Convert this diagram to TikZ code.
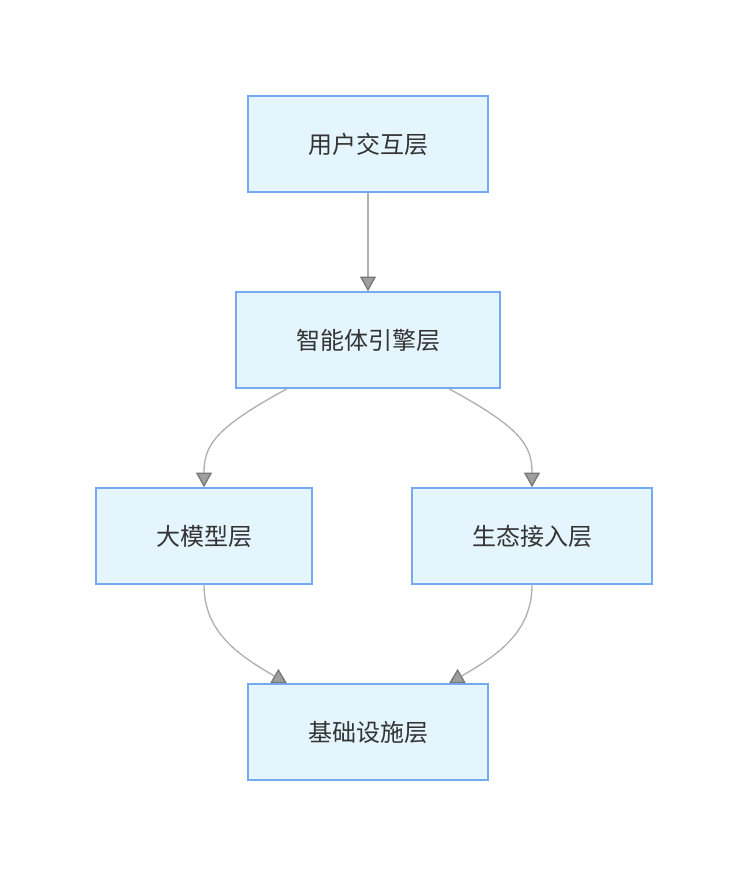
\documentclass[tikz,border=0pt]{standalone}
\usepackage{fontspec}
\newfontfamily\cjk{Noto Sans CJK SC}
\usetikzlibrary{arrows.meta}
\definecolor{boxfill}{HTML}{E5F5FD}
\definecolor{boxline}{HTML}{75A9F4}
\definecolor{edgecol}{HTML}{B0B0B0}
\definecolor{headfill}{HTML}{9E9E9E}
\definecolor{headline}{HTML}{7A7A7A}
\definecolor{textcol}{HTML}{333333}
\begin{document}
\begin{tikzpicture}[x=0.75pt, y=-0.75pt,
    layer/.style={draw=boxline, fill=boxfill, line width=1.1pt, minimum height=72pt, inner sep=0pt, text=textcol, font=\cjk\fontsize{18}{21}\selectfont},
    flow/.style={draw=edgecol, line width=1pt, -{Triangle[length=11pt, width=12pt, color=headline, fill=headfill]}}]
    \useasboundingbox (0,0) rectangle (748,876);
    % layers
    \node[layer, minimum width=180pt] (ui) at (368,144) {用户交互层};
    \node[layer, minimum width=198pt] (engine) at (368,340) {智能体引擎层};
    \node[layer, minimum width=162pt] (model) at (204,536) {大模型层};
    \node[layer, minimum width=180pt] (eco) at (532,536) {生态接入层};
    \node[layer, minimum width=180pt] (infra) at (368,732) {基础设施层};
    % connectors
    \draw[flow] (ui) -- (engine);
    \draw[flow] (287,0 |- engine.south) .. controls (215,428) and (204,445) .. (model.north);
    \draw[flow] (449,0 |- engine.south) .. controls (521,428) and (532,445) .. (eco.north);
    \draw[flow] (model.south) .. controls (204,632) and (238,655) .. (287,0 |- infra.north);
    \draw[flow] (eco.south) .. controls (532,632) and (498,655) .. (449,0 |- infra.north);
\end{tikzpicture}
\end{document}
